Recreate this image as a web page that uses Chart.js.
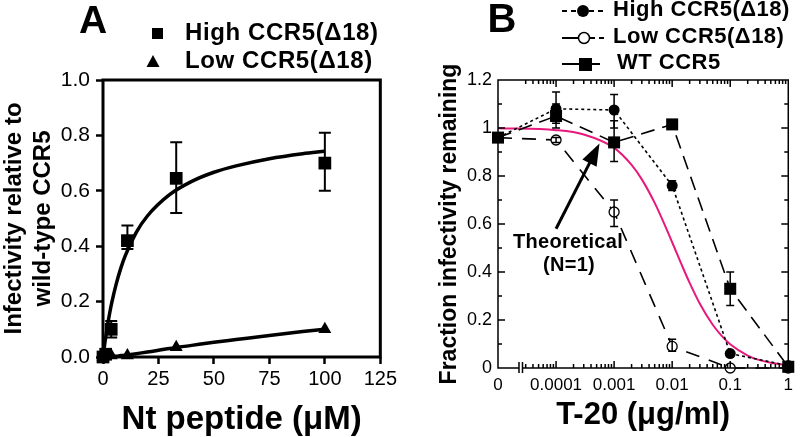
<!DOCTYPE html>
<html>
<head>
<meta charset="utf-8">
<script src="https://cdn.jsdelivr.net/npm/chart.js@4.4.0/dist/chart.umd.min.js"></script>
<style>
html, body { margin: 0; padding: 0; background: #fff; }
#wrap { position: relative; width: 800px; height: 437px; }
.panel { position: absolute; top: 0; width: 400px; height: 437px; }
</style>
</head>
<body>
<div id="wrap">
  <div class="panel" style="left:0"><canvas id="chartA"></canvas></div>
  <div class="panel" style="left:400px"><canvas id="chartB"></canvas></div>
</div>
<script>
// ---- panel A data ----
var peptide = [0, 1.2, 3.7, 11, 33, 100];
var highA = [0.0, 0.01, 0.10, 0.42, 0.645, 0.70];
var highALo = [null, null, 0.07, 0.39, 0.52, 0.60];
var highAHi = [null, null, 0.13, 0.475, 0.775, 0.81];
var lowA = [0.0, 0.005, 0.005, 0.005, 0.035, 0.10];

var fitX = [0, 0.5, 1, 2, 3, 4, 6, 8, 10, 15, 20, 30, 40, 50, 60, 75, 90, 100];
var highFit = [0, 0.031, 0.06, 0.112, 0.158, 0.198, 0.265, 0.32, 0.365, 0.45, 0.509, 0.586, 0.634, 0.667, 0.69, 0.716, 0.734, 0.743];
var lowFit = [0, 0, 0.0005, 0.001, 0.0015, 0.002, 0.003, 0.005, 0.006, 0.012, 0.018, 0.031, 0.042, 0.053, 0.063, 0.078, 0.092, 0.10];

// ---- panel B data ----
var t20 = [1e-5, 1e-4, 1e-3, 1e-2, 1e-1, 1];       // first point is the "0" dose
var t20Labels = ['0', '0.0001', '0.001', '0.01', '0.1', '1'];
var highB = [0.96, 1.08, 1.075, 0.76, 0.06, 0.01];
var highBLo = [null, 1.02, 1.0, 0.74, null, null];
var highBHi = [null, 1.15, 1.14, 0.78, null, null];
var lowB = [0.96, 0.95, 0.65, 0.09, 0.0, 0.0];
var lowBLo = [null, 0.94, 0.59, 0.07, null, null];
var lowBHi = [null, 0.96, 0.70, 0.12, null, null];
var wtB = [0.96, 1.05, 0.94, 1.015, 0.33, 0.005];
var wtBLo = [null, 1.0, 0.86, null, 0.26, null];
var wtBHi = [null, 1.1, 1.03, null, 0.40, null];

var theoX = [1e-5, 1e-4, 3e-4, 1e-3, 2e-3, 3e-3, 5e-3, 7e-3, 1e-2, 1.5e-2, 2e-2, 3e-2, 5e-2, 7e-2, 0.1, 0.2, 0.3, 0.5, 1];
var theoY = [0.999, 0.991, 0.973, 0.917, 0.846, 0.786, 0.688, 0.611, 0.524, 0.423, 0.355, 0.268, 0.18, 0.136, 0.099, 0.052, 0.035, 0.022, 0.011];

var yTicksB = [0, 0.2, 0.4, 0.6, 0.8, 1, 1.2];
var yLabelsB = ['0', '0.2', '0.4', '0.6', '0.8', '1', '1.2'];

var FONT = "'Liberation Sans', Arial, Helvetica, sans-serif";
Chart.defaults.font.family = FONT;
Chart.defaults.color = '#000';

function pts(xs, ys) {
  return xs.map(function (x, i) { return { x: x, y: ys[i] }; });
}

// vertical error bars with caps, drawn from errLo / errHi on a dataset
var errorBars = {
  id: 'errorBars',
  afterDatasetsDraw: function (chart) {
    var ctx = chart.ctx, ys = chart.scales.y;
    chart.data.datasets.forEach(function (ds, i) {
      if (!ds.errLo) return;
      var meta = chart.getDatasetMeta(i);
      ctx.save();
      ctx.strokeStyle = '#000';
      ctx.lineWidth = ds.errWidth;
      meta.data.forEach(function (pt, j) {
        if (ds.errLo[j] == null) return;
        var y1 = ys.getPixelForValue(ds.errLo[j]);
        var y2 = ys.getPixelForValue(ds.errHi[j]);
        var c = ds.errCap;
        ctx.beginPath();
        ctx.moveTo(pt.x, y1); ctx.lineTo(pt.x, y2);
        ctx.moveTo(pt.x - c, y1); ctx.lineTo(pt.x + c, y1);
        ctx.moveTo(pt.x - c, y2); ctx.lineTo(pt.x + c, y2);
        ctx.stroke();
      });
      ctx.restore();
    });
  }
};

function boldText(ctx, txt, x, y, size, spacing, align) {
  ctx.font = 'bold ' + size + 'px ' + FONT;
  ctx.letterSpacing = (spacing || 0) + 'px';
  ctx.textAlign = align || 'left';
  ctx.textBaseline = 'middle';
  ctx.fillText(txt, x, y);
  ctx.letterSpacing = '0px';
}

var decorA = {
  id: 'decorA',
  afterDraw: function (chart) {
    var a = chart.chartArea, ctx = chart.ctx;
    ctx.save();
    ctx.strokeStyle = '#000';
    ctx.lineWidth = 3;
    ctx.strokeRect(a.left, a.top, a.right - a.left, a.bottom - a.top);
    ctx.fillStyle = '#000';
    boldText(ctx, 'A', 93, 22, 39, 0, 'center');
    // legend
    ctx.fillRect(152, 28, 11, 11);
    ctx.beginPath();
    ctx.moveTo(153, 55); ctx.lineTo(159.5, 67); ctx.lineTo(146.5, 67); ctx.closePath();
    ctx.fill();
    boldText(ctx, 'High CCR5(\u039418)', 185, 33, 24, 0.6);
    boldText(ctx, 'Low CCR5(\u039418)', 185, 61, 24, 0.6);
    ctx.restore();
  }
};

var breakAt = 2.3e-5;

var decorB = {
  id: 'decorB',
  afterDraw: function (chart) {
    var a = chart.chartArea, ctx = chart.ctx, xs = chart.scales.x, ys = chart.scales.y;
    ctx.save();
    ctx.strokeStyle = '#000';
    ctx.fillStyle = '#000';
    ctx.lineWidth = 1.5;
    var bx = xs.getPixelForValue(breakAt);
    ctx.beginPath();
    ctx.moveTo(bx, a.bottom); ctx.lineTo(a.left, a.bottom); ctx.lineTo(a.left, a.top);
    ctx.lineTo(a.right, a.top); ctx.lineTo(a.right, a.bottom); ctx.lineTo(bx + 4, a.bottom);
    ctx.moveTo(bx, a.bottom - 6); ctx.lineTo(bx, a.bottom + 5);
    ctx.moveTo(bx + 3.5, a.bottom - 6); ctx.lineTo(bx + 3.5, a.bottom + 5);
    // y ticks, left and right, inward
    ys.ticks.forEach(function (t) {
      var y = ys.getPixelForValue(t.value);
      ctx.moveTo(a.left, y); ctx.lineTo(a.left + 7, y);
      ctx.moveTo(a.right, y); ctx.lineTo(a.right - 7, y);
    });
    for (var m = 0.1; m < 1.2; m += 0.2) {
      var ym = ys.getPixelForValue(m);
      ctx.moveTo(a.left, ym); ctx.lineTo(a.left + 4, ym);
      ctx.moveTo(a.right, ym); ctx.lineTo(a.right - 4, ym);
    }
    // x ticks, bottom and top, inward
    for (var d = -5; d <= 0; d++) {
      for (var k = 1; k <= 9; k++) {
        var v = k * Math.pow(10, d);
        if (v > 1.0001 || v < breakAt * 1.2) continue;
        var x = xs.getPixelForValue(v);
        var len = k === 1 ? 7 : 4;
        ctx.moveTo(x, a.bottom); ctx.lineTo(x, a.bottom - len);
        ctx.moveTo(x, a.top); ctx.lineTo(x, a.top + len);
      }
    }
    ctx.stroke();

    // panel letter and legend
    boldText(ctx, 'B', 102, 21, 40, 0, 'center');
    ctx.lineWidth = 2;
    ctx.beginPath();
    ctx.setLineDash([5, 4]);
    ctx.moveTo(162, 11); ctx.lineTo(205, 11);
    ctx.moveTo(190, 38); ctx.lineTo(205, 38);
    ctx.stroke();
    ctx.setLineDash([]);
    ctx.beginPath();
    ctx.moveTo(162, 38); ctx.lineTo(178, 38);
    ctx.moveTo(162, 64); ctx.lineTo(180, 64);
    ctx.moveTo(192, 64); ctx.lineTo(200, 64);
    ctx.stroke();
    ctx.beginPath(); ctx.arc(183, 11, 6, 0, Math.PI * 2); ctx.fill();
    ctx.beginPath(); ctx.arc(184, 38, 5.5, 0, Math.PI * 2);
    ctx.fillStyle = '#fff'; ctx.fill(); ctx.lineWidth = 1.5; ctx.stroke();
    ctx.fillStyle = '#000';
    ctx.fillRect(179, 58, 13, 13);
    boldText(ctx, 'High CCR5(\u039418)', 213, 10, 22, 0.5);
    boldText(ctx, 'Low CCR5(\u039418)', 213, 37, 22, 0.5);
    boldText(ctx, 'WT CCR5', 217, 63, 22, 0.5);

    // annotation arrow
    var tx = xs.getPixelForValue(1.0e-4), ty = ys.getPixelForValue(0.58);
    var hx = xs.getPixelForValue(5.6e-4), hy = ys.getPixelForValue(0.935);
    var ang = Math.atan2(hy - ty, hx - tx);
    ctx.lineWidth = 3;
    ctx.beginPath();
    ctx.moveTo(tx, ty);
    ctx.lineTo(hx - 16 * Math.cos(ang), hy - 16 * Math.sin(ang));
    ctx.stroke();
    ctx.beginPath();
    ctx.moveTo(hx, hy);
    ctx.lineTo(hx - 22 * Math.cos(ang) + 8 * Math.sin(ang), hy - 22 * Math.sin(ang) - 8 * Math.cos(ang));
    ctx.lineTo(hx - 22 * Math.cos(ang) - 8 * Math.sin(ang), hy - 22 * Math.sin(ang) + 8 * Math.cos(ang));
    ctx.closePath();
    ctx.fill();
    boldText(ctx, 'Theoretical', 168, 242, 20, 0.3, 'center');
    boldText(ctx, '(N=1)', 169, 265, 20, 0.3, 'center');
    ctx.restore();
  }
};

// ---------------- Panel A ----------------
new Chart(document.getElementById('chartA'), {
  type: 'scatter',
  data: {
    datasets: [
      { data: pts(peptide, highA), pointStyle: 'rect', pointRadius: 9, pointBackgroundColor: '#000',
        pointBorderColor: '#000', pointBorderWidth: 0, showLine: false, clip: false,
        errLo: highALo, errHi: highAHi, errCap: 6, errWidth: 2 },
      { data: pts(peptide, lowA), pointStyle: 'triangle', pointRadius: 7.5, pointBackgroundColor: '#000',
        pointBorderColor: '#000', pointBorderWidth: 0, showLine: false, clip: false },
      { data: pts(fitX, highFit), showLine: true, borderColor: '#000', borderWidth: 3.5, pointRadius: 0,
        tension: 0.4, cubicInterpolationMode: 'monotone' },
      { data: pts(fitX, lowFit), showLine: true, borderColor: '#000', borderWidth: 3.5, pointRadius: 0,
        tension: 0.4, cubicInterpolationMode: 'monotone' }
    ]
  },
  options: {
    responsive: true,
    maintainAspectRatio: false,
    animation: false,
    layout: { padding: { left: 0, right: 15, top: 80, bottom: 0 } },
    plugins: { legend: { display: false }, tooltip: { enabled: false } },
    scales: {
      x: {
        type: 'linear', min: 0, max: 125,
        ticks: { stepSize: 25, font: { size: 20 }, color: '#000', padding: 3, maxRotation: 0 },
        grid: { drawOnChartArea: false, drawTicks: true, tickLength: 7, tickWidth: 2.5, tickColor: '#000' },
        border: { display: false },
        title: { display: true, text: 'Nt peptide (\u03bcM)', color: '#000',
                 font: { size: 33, weight: 'bold', lineHeight: 1 }, padding: { top: 0, bottom: 1 } },
        afterFit: function (s) { s.height = 80; }
      },
      y: {
        min: 0, max: 1,
        ticks: { stepSize: 0.2, font: { size: 21 }, color: '#000', padding: 6,
                 callback: function (v) { return v.toFixed(1); } },
        grid: { drawOnChartArea: false, drawTicks: true, tickLength: 7, tickWidth: 2.5, tickColor: '#000' },
        border: { display: false },
        title: { display: true, text: ['Infectivity relative to', 'wild-type CCR5'], color: '#000',
                 font: { size: 24, weight: 'bold', lineHeight: 1.2 }, padding: { top: 0, bottom: 0 } },
        afterFit: function (s) { s.width = 103; }
      }
    }
  },
  plugins: [errorBars, decorA]
});

// ---------------- Panel B ----------------
function skipFirst(r) { return function (c) { return c.dataIndex === 0 ? 0 : r; }; }

new Chart(document.getElementById('chartB'), {
  type: 'scatter',
  data: {
    datasets: [
      { label: 'WT CCR5', data: pts(t20, wtB), showLine: true, borderColor: '#000', borderWidth: 1.6,
        borderDash: [14, 8], pointStyle: 'rect', pointRadius: 8.5, pointBackgroundColor: '#000',
        pointBorderWidth: 0, clip: false, errLo: wtBLo, errHi: wtBHi, errCap: 4, errWidth: 1.5 },
      { label: 'High CCR5(\u039418)', data: pts(t20, highB), showLine: true, borderColor: '#000', borderWidth: 1.6,
        borderDash: [3, 3], pointStyle: 'circle', pointRadius: skipFirst(5.5), pointBackgroundColor: '#000',
        pointBorderWidth: 0, clip: false, errLo: highBLo, errHi: highBHi, errCap: 4, errWidth: 1.5 },
      { label: 'Low CCR5(\u039418)', data: pts(t20, lowB), showLine: true, borderColor: '#000', borderWidth: 1.6,
        borderDash: [14, 10], pointStyle: 'circle', pointRadius: skipFirst(5), pointBackgroundColor: '#fff',
        pointBorderColor: '#000', pointBorderWidth: 1.3, clip: false,
        errLo: lowBLo, errHi: lowBHi, errCap: 4, errWidth: 1.5 },
      { label: 'Theoretical', data: pts(theoX, theoY), showLine: true, borderColor: '#e8197d', borderWidth: 2,
        pointRadius: 0, cubicInterpolationMode: 'monotone' }
    ]
  },
  options: {
    responsive: true,
    maintainAspectRatio: false,
    animation: false,
    layout: { padding: { left: 36, right: 7, top: 80, bottom: 0 } },
    plugins: { legend: { display: false }, tooltip: { enabled: false } },
    scales: {
      x: {
        type: 'logarithmic', min: 1e-5, max: 1,
        afterBuildTicks: function (s) { s.ticks = t20.map(function (v) { return { value: v }; }); },
        ticks: { font: { size: 17 }, color: '#000', padding: 7, maxRotation: 0, autoSkip: false,
                 callback: function (v, i) { return t20Labels[i]; } },
        grid: { display: false, drawTicks: false },
        border: { display: false },
        title: { display: true, text: 'T-20 (\u03bcg/ml)', color: '#000',
                 font: { size: 31, weight: 'bold', lineHeight: 1.1 }, padding: { top: 0, bottom: 4 } },
        afterFit: function (s) { s.height = 69; }
      },
      y: {
        min: 0, max: 1.2,
        afterBuildTicks: function (s) { s.ticks = yTicksB.map(function (v) { return { value: v }; }); },
        ticks: { font: { size: 18 }, color: '#000', padding: 6,
                 callback: function (v, i) { return yLabelsB[i]; } },
        grid: { display: false, drawTicks: false },
        border: { display: false },
        title: { display: true, text: 'Fraction infectivity remaining', color: '#000',
                 font: { size: 23, weight: 'bold', lineHeight: 1.2 }, padding: { top: 0, bottom: 0 } },
        afterFit: function (s) { s.width = 62; }
      }
    }
  },
  plugins: [errorBars, decorB]
});
</script>
</body>
</html>
